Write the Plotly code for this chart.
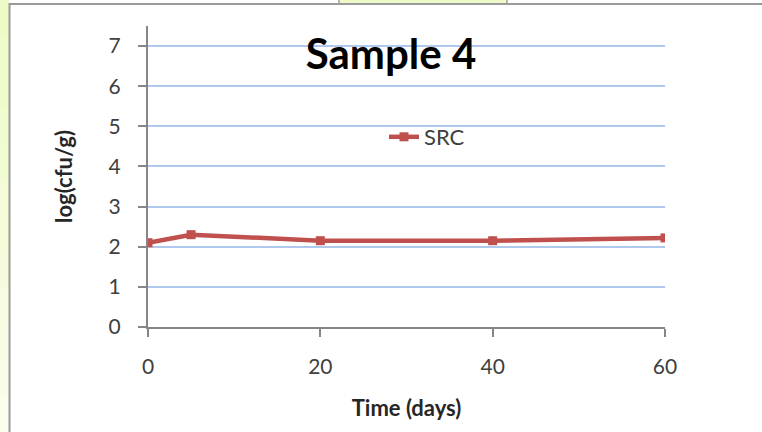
import plotly.graph_objects as go

# Storage time (days) and microbial count for sample 4
days = [0, 5, 20, 40, 60]
src_log_cfu = [2.1, 2.3, 2.15, 2.15, 2.22]
series_name = "SRC"

x_ticks = [0, 20, 40, 60]
y_ticks = [0, 1, 2, 3, 4, 5, 6, 7]

W, H = 762, 432
L, R, T, B = 148, 97, 26, 105
PW, PH = W - L - R, H - T - B

FONT = "Lato, Carlito, Calibri, sans-serif"
RED = "#C0504D"


def px(x):
    return (x - L) / PW


def py(y):
    return (H - B - y) / PH


fig = go.Figure()
fig.add_trace(go.Scatter(
    x=days, y=src_log_cfu, name=series_name, mode="lines+markers",
    line=dict(color=RED, width=4.5),
    marker=dict(symbol="square", size=9, color=RED),
))

shapes = []
# pale yellow-green frame strip on the left, fading downwards
bands = 12
for i in range(bands):
    t = i / (bands - 1)
    r = int(0xEE + (0xFA - 0xEE) * t)
    g = int(0xFB + (0xFE - 0xFB) * t)
    b = int(0xC6 + (0xEC - 0xC6) * t)
    y0 = H * i / bands
    y1 = H * (i + 1) / bands
    shapes.append(dict(type="rect", xref="paper", yref="paper",
                       x0=px(0), x1=px(9), y0=py(y1), y1=py(y0),
                       fillcolor=f"rgb({r},{g},{b})", line=dict(width=0), layer="below"))
# small tab at the top edge
shapes.append(dict(type="rect", xref="paper", yref="paper",
                   x0=px(339), x1=px(507), y0=py(4), y1=py(-2),
                   fillcolor="#EEFBC8", line=dict(color="#A0A0A0", width=1.5)))
# frame borders
shapes.append(dict(type="line", xref="paper", yref="paper",
                   x0=px(9.5), x1=px(9.5), y0=py(3), y1=py(H + 2),
                   line=dict(color="#9A9A9A", width=2)))
shapes.append(dict(type="line", xref="paper", yref="paper",
                   x0=px(9), x1=px(W + 2), y0=py(4), y1=py(4),
                   line=dict(color="#9A9A9A", width=2)))

fig.update_layout(
    width=W, height=H,
    margin=dict(l=L, r=R, t=T, b=B, pad=0),
    paper_bgcolor="white", plot_bgcolor="white",
    font=dict(family=FONT, size=20, color="#404040"),
    title=dict(text="<b>Sample 4</b>", font=dict(family=FONT, size=42, color="black"),
               xref="container", yref="container",
               x=391 / W, y=1 - 54 / H, xanchor="center", yanchor="middle"),
    showlegend=True,
    legend=dict(x=px(384), y=py(137), xanchor="left", yanchor="middle",
                bgcolor="rgba(0,0,0,0)", font=dict(family=FONT, size=22, color="#404040"),
                itemwidth=30, tracegroupgap=0),
    shapes=shapes,
    xaxis=dict(
        range=[0, 60], tickvals=x_ticks, ticks="outside", ticklen=8, tickwidth=1.5,
        tickcolor="#868686", showline=True, linecolor="#868686", linewidth=2,
        showgrid=False, zeroline=False, ticklabelstandoff=12,
        tickfont=dict(family=FONT, size=21, color="#404040"),
        title=dict(text="<b>Time (days)</b>", standoff=23,
                   font=dict(family=FONT, size=22, color="#262626")),
    ),
    yaxis=dict(
        range=[0, 7.5], tickvals=y_ticks, ticks="outside", ticklen=8, tickwidth=1.5,
        tickcolor="#868686", showline=True, linecolor="#868686", linewidth=2,
        showgrid=True, gridcolor="#B0C8EE", gridwidth=1.5, zeroline=False,
        ticklabelstandoff=13,
        tickfont=dict(family=FONT, size=21, color="#404040"),
        title=dict(text="<b>log(cfu/g)</b>", standoff=30,
                   font=dict(family=FONT, size=22, color="#262626")),
    ),
)

fig.write_html("out.html")
